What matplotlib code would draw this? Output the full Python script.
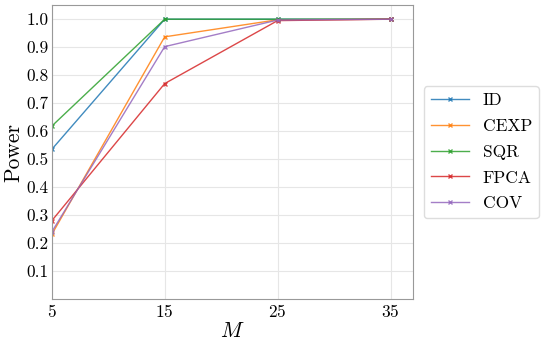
import matplotlib
matplotlib.use("Agg")
import matplotlib.pyplot as plt

plt.rcParams['font.family'] = ['cmr10', 'DejaVu Serif']
plt.rcParams['mathtext.fontset'] = 'cm'
plt.rcParams['axes.formatter.use_mathtext'] = True

M = [5, 15, 25, 35]
power_id = [0.535, 1.0, 1.0, 1.0]
power_cexp = [0.231, 0.937, 0.998, 1.0]
power_sqr = [0.618, 1.0, 1.0, 1.0]
power_fpca = [0.280, 0.770, 0.995, 1.0]
power_cov = [0.240, 0.902, 0.997, 1.0]
labels = ['ID', 'CEXP', 'SQR', 'FPCA', 'COV']
colors = ['#1f77b4', '#ff7f0e', '#2ca02c', '#d62728', '#9467bd']

fig = plt.figure(figsize=(5.45, 3.47), dpi=100)
ax = fig.add_axes([0.095, 0.138, 0.663, 0.847])

for y, lab, c in zip([power_id, power_cexp, power_sqr, power_fpca, power_cov], labels, colors):
    ax.plot(M, y, marker='x', markersize=3.5, lw=1, color=c, label=lab, alpha=0.85)

ax.set_xlim(5, 37)
ax.set_ylim(0, 1.05)
ax.set_xticks(M)
ax.set_yticks([0.1, 0.2, 0.3, 0.4, 0.5, 0.6, 0.7, 0.8, 0.9, 1.0])
ax.set_yticklabels(['0.1', '0.2', '0.3', '0.4', '0.5', '0.6', '0.7', '0.8', '0.9', '1.0'])
ax.tick_params(labelsize=12.5, length=0, pad=2.5)
ax.grid(True, color='#e6e6e6', lw=0.8)
ax.set_axisbelow(True)
for s in ax.spines.values():
    s.set_color('#999999')
ax.set_xlabel('$M$', fontsize=15.5)
ax.set_ylabel('Power', fontsize=15.5)
ax.xaxis.set_label_coords(0.5, -0.075)
ax.yaxis.set_label_coords(-0.08, 0.5)

ax.legend(loc='center left', bbox_to_anchor=(1.005, 0.5), fontsize=12.5,
          handlelength=2.2, labelspacing=0.6, framealpha=1, edgecolor='#dddddd')

fig.savefig('out.png', dpi=100)
